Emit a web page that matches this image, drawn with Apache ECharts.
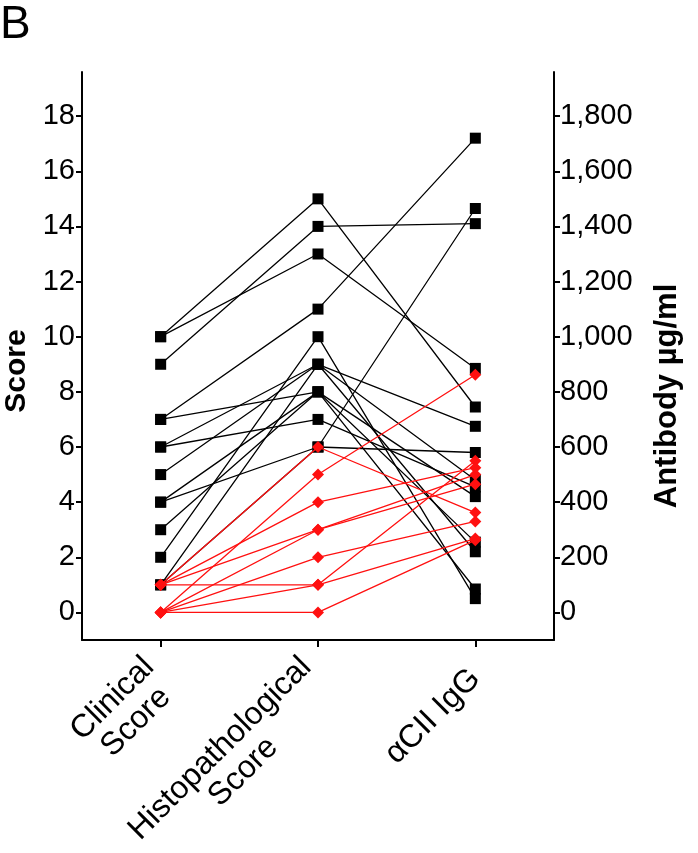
<!DOCTYPE html>
<html>
<head>
<meta charset="utf-8">
<script src="https://cdn.jsdelivr.net/npm/echarts@6/dist/echarts.min.js"></script>
<style>
html,body{margin:0;padding:0;background:#fff;}
#chart{width:698px;height:853px;}
</style>
</head>
<body>
<div id="chart"></div>
<script>
// Categories (x axis)
const categories = ['Clinical Score', 'Histopathological Score', 'αCII IgG'];
// Tick labels
const scoreTicks = [0, 2, 4, 6, 8, 10, 12, 14, 16, 18];
const antibodyTicks = [0, 200, 400, 600, 800, 1000, 1200, 1400, 1600, 1800];
// Black group (one entry per animal)
const blackClinical = [1, 10, 10, 9, 7, 7, 6, 6, 5, 4, 4, 3, 2, 1];
const blackHisto    = [6, 15, 13, 14, 11, 8, 9, 7, 9, 8, 6, 8, 10, 9];
const blackIgG      = [1465, 745, 885, 1410, 1720, 420, 675, 455, 480, 255, 580, 85, 50, 220];
// Red group (one entry per animal)
const redClinical = [0, 1, 0, 0, 1, 0, 1, 0, 1];
const redHisto    = [0, 1, 1, 2, 3, 3, 4, 5, 6];
const redIgG      = [262, 268, 550, 330, 500, 465, 525, 862, 362];

const FONT = "'Liberation Sans', Arial, sans-serif";
const chart = echarts.init(document.getElementById('chart'), null, {renderer: 'canvas'});

function animalSeries(c, h, a, color, symbol, size, z) {
  return c.map((v, i) => ({
    type: 'line',
    yAxisIndex: 0,
    data: [v, h[i], a[i] / 100],
    symbol: symbol,
    symbolSize: size,
    z: z,
    lineStyle: {color: color, width: 1.3},
    itemStyle: {color: color, borderWidth: 0},
    emphasis: {disabled: true},
    animation: false
  }));
}

const series = []
  .concat(animalSeries(blackClinical, blackHisto, blackIgG, '#000000', 'rect', 11, 2))
  .concat(animalSeries(redClinical, redHisto, redIgG, '#ff1010', 'diamond', 12, 3));

chart.setOption({
  animation: false,
  backgroundColor: '#ffffff',
  textStyle: {fontFamily: FONT},
  grid: {left: 82, right: 144, top: 72, bottom: 213, containLabel: false, outerBoundsMode: 'none'},
  graphic: [{
    type: 'text', left: 0, top: 2,
    style: {text: 'B', font: '46px ' + FONT, fill: '#000'}
  }],
  xAxis: {
    type: 'category',
    data: categories,
    boundaryGap: true,
    axisLine: {show: true, onZero: false, lineStyle: {color: '#000', width: 2}},
    axisTick: {show: true, alignWithLabel: true, length: 7, lineStyle: {color: '#000', width: 2}},
    splitLine: {show: false},
    axisLabel: {
      rotate: 45,
      margin: 34,
      interval: 0,
      color: '#000',
      fontFamily: FONT,
      fontSize: 32,
      formatter: function (v, i) {
        const parts = v.split(' ');
        if (i === 0) return '{a|' + parts[0] + '}\n{a|' + parts[1] + '}';
        if (i === 1) return '{b|' + parts[0] + '}\n{b|' + parts[1] + '}';
        return '{c|' + v + '}';
      },
      rich: {
        a: {width: 103, align: 'center', fontSize: 32, lineHeight: 33, fontFamily: FONT, color: '#000'},
        b: {width: 244, align: 'center', fontSize: 32, lineHeight: 33, fontFamily: FONT, color: '#000'},
        c: {fontSize: 32, lineHeight: 33, fontFamily: FONT, color: '#000'}
      }
    }
  },
  yAxis: [{
    type: 'value',
    position: 'left',
    min: -1,
    max: 19.6,
    name: 'Score',
    nameLocation: 'middle',
    nameGap: 43,
    nameRotate: 90,
    nameTextStyle: {fontFamily: FONT, fontSize: 30, fontWeight: 'bold', color: '#000', padding: [0, 30, 0, 0]},
    axisLine: {show: true, lineStyle: {color: '#000', width: 2}},
    axisTick: {show: true, length: 6, customValues: scoreTicks, lineStyle: {color: '#000', width: 2}},
    splitLine: {show: false},
    axisLabel: {customValues: scoreTicks, margin: 7, color: '#000', fontFamily: FONT, fontSize: 29}
  }, {
    type: 'value',
    position: 'right',
    min: -100,
    max: 1960,
    name: 'Antibody µg/ml',
    nameLocation: 'middle',
    nameGap: 98,
    nameRotate: 90,
    nameTextStyle: {fontFamily: FONT, fontSize: 31, fontWeight: 'bold', color: '#000', padding: [0, 80, 0, 0]},
    axisLine: {show: true, lineStyle: {color: '#000', width: 2}},
    axisTick: {show: true, length: 6, customValues: antibodyTicks, lineStyle: {color: '#000', width: 2}},
    splitLine: {show: false},
    axisLabel: {
      customValues: antibodyTicks, margin: 6, color: '#000', fontFamily: FONT, fontSize: 29,
      formatter: function (v) { return v.toLocaleString('en-US'); }
    }
  }],
  series: series
});
</script>
</body>
</html>
